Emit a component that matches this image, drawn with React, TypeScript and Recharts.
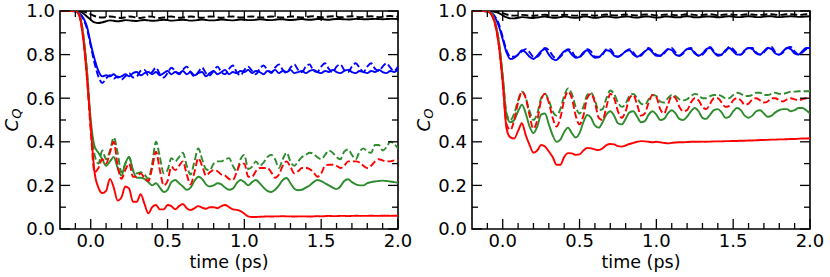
import React from "react";
import { LineChart, Line, XAxis, YAxis, ReferenceArea } from "recharts";

// time axis (ps)
const TIME = [
  -0.2, -0.175, -0.15, -0.125, -0.1, -0.075, -0.05, -0.025,
  0, 0.025, 0.05, 0.075, 0.1, 0.125, 0.15, 0.175,
  0.2, 0.225, 0.25, 0.275, 0.3, 0.325, 0.35, 0.375,
  0.4, 0.425, 0.45, 0.475, 0.5, 0.525, 0.55, 0.575,
  0.6, 0.625, 0.65, 0.675, 0.7, 0.725, 0.75, 0.775,
  0.8, 0.825, 0.85, 0.875, 0.9, 0.925, 0.95, 0.975,
  1.0, 1.025, 1.05, 1.075, 1.1, 1.125, 1.15, 1.175,
  1.2, 1.225, 1.25, 1.275, 1.3, 1.325, 1.35, 1.375,
  1.4, 1.425, 1.45, 1.475, 1.5, 1.525, 1.55, 1.575,
  1.6, 1.625, 1.65, 1.675, 1.7, 1.725, 1.75, 1.775,
  1.8, 1.825, 1.85, 1.875, 1.9, 1.925, 1.95, 1.975,
  2.0,
];

const X_TICKS = [
  -0.1, 0, 0.1, 0.2, 0.3, 0.4, 0.5, 0.6, 0.7, 0.8, 0.9, 1.0,
  1.1, 1.2, 1.3, 1.4, 1.5, 1.6, 1.7, 1.8, 1.9, 2.0,
];
const Y_TICKS = [0, 0.1, 0.2, 0.3, 0.4, 0.5, 0.6, 0.7, 0.8, 0.9, 1.0];

// ---- left panel: C_Q ----
const qBlackSolid = [
  1, 1, 1, 1, 1, 0.998, 0.99, 0.975,
  0.96, 0.948, 0.945, 0.948, 0.953, 0.957, 0.955, 0.953,
  0.955, 0.958, 0.957, 0.955, 0.954, 0.957, 0.959, 0.957,
  0.955, 0.956, 0.958, 0.96, 0.958, 0.956, 0.957, 0.959,
  0.96, 0.958, 0.956, 0.957, 0.959, 0.961, 0.959, 0.957,
  0.957, 0.959, 0.961, 0.96, 0.958, 0.957, 0.959, 0.961,
  0.96, 0.958, 0.958, 0.96, 0.962, 0.961, 0.959, 0.958,
  0.96, 0.962, 0.962, 0.96, 0.959, 0.96, 0.962, 0.963,
  0.961, 0.96, 0.961, 0.963, 0.963, 0.961, 0.96, 0.962,
  0.963, 0.963, 0.962, 0.961, 0.962, 0.964, 0.963, 0.962,
  0.962, 0.963, 0.964, 0.963, 0.962, 0.963, 0.964, 0.964,
  0.963,
];
const qBlackDash = [
  1, 1, 1, 1, 1, 1, 0.998, 0.993,
  0.985, 0.977, 0.972, 0.97, 0.972, 0.975, 0.973, 0.97,
  0.968, 0.971, 0.975, 0.973, 0.97, 0.968, 0.971, 0.975,
  0.974, 0.97, 0.968, 0.97, 0.974, 0.975, 0.972, 0.969,
  0.97, 0.973, 0.975, 0.973, 0.97, 0.969, 0.972, 0.975,
  0.974, 0.971, 0.969, 0.971, 0.974, 0.975, 0.972, 0.97,
  0.971, 0.974, 0.975, 0.973, 0.97, 0.97, 0.973, 0.975,
  0.974, 0.971, 0.97, 0.972, 0.975, 0.975, 0.972, 0.97,
  0.972, 0.975, 0.976, 0.973, 0.971, 0.972, 0.975, 0.976,
  0.974, 0.971, 0.972, 0.975, 0.976, 0.974, 0.972, 0.973,
  0.975, 0.976, 0.974, 0.972, 0.973, 0.976, 0.977, 0.975,
  0.974,
];
const qBlueSolid = [
  1, 1, 1, 1, 0.998, 0.99, 0.97, 0.93,
  0.85, 0.78, 0.725, 0.7, 0.705, 0.7, 0.71, 0.695,
  0.7, 0.71, 0.7, 0.715, 0.72, 0.705, 0.715, 0.72,
  0.71, 0.72, 0.705, 0.715, 0.725, 0.71, 0.72, 0.715,
  0.725, 0.71, 0.72, 0.705, 0.715, 0.72, 0.7, 0.715,
  0.725, 0.71, 0.72, 0.73, 0.71, 0.72, 0.715, 0.725,
  0.72, 0.73, 0.715, 0.725, 0.72, 0.71, 0.725, 0.72,
  0.73, 0.715, 0.725, 0.72, 0.73, 0.715, 0.72, 0.725,
  0.715, 0.725, 0.73, 0.72, 0.715, 0.725, 0.72, 0.73,
  0.72, 0.715, 0.725, 0.73, 0.72, 0.715, 0.725, 0.72,
  0.715, 0.725, 0.72, 0.73, 0.72, 0.715, 0.725, 0.72,
  0.73,
];
const qBlueDash = [
  1, 1, 1, 1, 0.998, 0.99, 0.965, 0.92,
  0.84, 0.76, 0.7, 0.67, 0.69, 0.705, 0.69, 0.7,
  0.685, 0.7, 0.715, 0.695, 0.7, 0.725, 0.73, 0.705,
  0.72, 0.74, 0.71, 0.695, 0.715, 0.74, 0.725, 0.71,
  0.73, 0.745, 0.72, 0.7, 0.72, 0.74, 0.715, 0.705,
  0.725, 0.745, 0.72, 0.71, 0.735, 0.75, 0.72, 0.705,
  0.73, 0.745, 0.725, 0.71, 0.735, 0.75, 0.73, 0.715,
  0.74, 0.755, 0.73, 0.715, 0.74, 0.755, 0.73, 0.72,
  0.745, 0.755, 0.725, 0.72, 0.745, 0.76, 0.735, 0.72,
  0.745, 0.755, 0.73, 0.72, 0.745, 0.76, 0.74, 0.72,
  0.745, 0.76, 0.735, 0.725, 0.745, 0.76, 0.74, 0.725,
  0.745,
];
const qGreenSolid = [
  1, 1, 1, 1, 1, 0.985, 0.9, 0.73,
  0.5, 0.38, 0.35, 0.32, 0.29, 0.31, 0.33, 0.28,
  0.245, 0.3, 0.33, 0.27, 0.235, 0.235, 0.23, 0.215,
  0.2, 0.21, 0.19, 0.17, 0.18, 0.215, 0.225, 0.21,
  0.195, 0.18, 0.19, 0.22, 0.24, 0.23, 0.205, 0.195,
  0.2, 0.21, 0.205, 0.19, 0.18, 0.185, 0.21, 0.225,
  0.215, 0.2, 0.215, 0.225, 0.21, 0.19, 0.175, 0.17,
  0.18, 0.2, 0.225, 0.234, 0.21, 0.185, 0.178, 0.18,
  0.19, 0.2, 0.215, 0.225, 0.22, 0.21, 0.2, 0.19,
  0.183, 0.195, 0.22, 0.228, 0.215, 0.205, 0.2, 0.2,
  0.21, 0.215, 0.218, 0.22, 0.222, 0.22, 0.218, 0.215,
  0.213,
];
const qGreenDash = [
  1, 1, 1, 1, 1, 0.985, 0.9, 0.73,
  0.48, 0.34, 0.3, 0.36, 0.32, 0.36, 0.42, 0.35,
  0.26, 0.3, 0.33, 0.27, 0.255, 0.26, 0.25, 0.23,
  0.3, 0.4, 0.33, 0.255, 0.27, 0.325, 0.31, 0.33,
  0.35, 0.29, 0.25, 0.31, 0.37, 0.32, 0.275, 0.27,
  0.3, 0.31, 0.31, 0.32, 0.325, 0.29, 0.265, 0.32,
  0.34, 0.275, 0.285, 0.31, 0.29, 0.305, 0.33, 0.34,
  0.32, 0.28, 0.32, 0.35, 0.31, 0.29, 0.31, 0.33,
  0.34, 0.35, 0.345, 0.33, 0.32, 0.34, 0.36, 0.35,
  0.33, 0.32, 0.355, 0.365, 0.34, 0.32, 0.355, 0.37,
  0.355, 0.35, 0.385, 0.385, 0.36, 0.375, 0.4, 0.39,
  0.37,
];
const qRedSolid = [
  1, 1, 1, 1, 1, 0.98, 0.88, 0.7,
  0.47, 0.26, 0.19, 0.165, 0.175, 0.23, 0.19, 0.13,
  0.145, 0.195, 0.185, 0.125, 0.125, 0.16, 0.115, 0.072,
  0.1, 0.11, 0.09, 0.09, 0.11, 0.105, 0.09, 0.105,
  0.115, 0.095, 0.087, 0.095, 0.105, 0.098, 0.093, 0.1,
  0.1, 0.095, 0.105, 0.11, 0.1, 0.09, 0.088, 0.082,
  0.07, 0.058, 0.055, 0.055, 0.056, 0.057, 0.058, 0.057,
  0.058, 0.058, 0.059, 0.058, 0.058, 0.057, 0.058, 0.058,
  0.058, 0.057, 0.058, 0.059, 0.058, 0.059, 0.06, 0.059,
  0.059, 0.06, 0.06, 0.059, 0.06, 0.061, 0.06, 0.06,
  0.06, 0.061, 0.06, 0.06, 0.061, 0.061, 0.06, 0.061,
  0.061,
];
const qRedDash = [
  1, 1, 1, 1, 1, 0.98, 0.88, 0.7,
  0.45, 0.26, 0.28, 0.32, 0.3, 0.35, 0.4, 0.29,
  0.23, 0.27, 0.3, 0.24, 0.24, 0.255, 0.235, 0.22,
  0.28, 0.355, 0.27, 0.2, 0.22, 0.285, 0.27, 0.29,
  0.31, 0.25, 0.205, 0.26, 0.325, 0.29, 0.245, 0.26,
  0.27, 0.265, 0.25, 0.245, 0.23, 0.225, 0.26, 0.3,
  0.3, 0.24, 0.24, 0.265, 0.28, 0.28, 0.28, 0.26,
  0.235, 0.25, 0.29, 0.31, 0.285, 0.255, 0.265, 0.28,
  0.28, 0.275, 0.26, 0.24, 0.255, 0.29, 0.295, 0.295,
  0.29, 0.28, 0.29, 0.31, 0.31, 0.31, 0.305, 0.29,
  0.28, 0.29, 0.31, 0.32, 0.315, 0.31, 0.31, 0.315,
  0.315,
];

// ---- right panel: C_O ----
const oBlackSolid = [
  1, 1, 1, 1, 1, 0.999, 0.996, 0.99,
  0.98, 0.971, 0.966, 0.966, 0.969, 0.972, 0.971, 0.969,
  0.968, 0.97, 0.973, 0.974, 0.972, 0.969, 0.969, 0.972,
  0.974, 0.973, 0.97, 0.969, 0.971, 0.974, 0.974, 0.971,
  0.969, 0.97, 0.973, 0.975, 0.973, 0.97, 0.97, 0.973,
  0.975, 0.974, 0.971, 0.97, 0.972, 0.975, 0.975, 0.972,
  0.97, 0.971, 0.974, 0.975, 0.973, 0.971, 0.971, 0.974,
  0.976, 0.974, 0.971, 0.971, 0.973, 0.975, 0.975, 0.973,
  0.971, 0.972, 0.975, 0.976, 0.974, 0.972, 0.972, 0.975,
  0.976, 0.975, 0.972, 0.972, 0.974, 0.976, 0.976, 0.973,
  0.972, 0.973, 0.975, 0.976, 0.975, 0.973, 0.973, 0.975,
  0.976,
];
const oBlackDash = [
  1, 1, 1, 1, 1, 1, 0.999, 0.996,
  0.99, 0.984, 0.98, 0.979, 0.98, 0.982, 0.981, 0.979,
  0.978, 0.98, 0.982, 0.983, 0.981, 0.979, 0.979, 0.981,
  0.983, 0.982, 0.98, 0.979, 0.981, 0.983, 0.983, 0.981,
  0.979, 0.98, 0.982, 0.984, 0.982, 0.98, 0.98, 0.982,
  0.984, 0.983, 0.981, 0.98, 0.982, 0.984, 0.984, 0.982,
  0.98, 0.981, 0.983, 0.984, 0.983, 0.981, 0.981, 0.983,
  0.985, 0.984, 0.982, 0.981, 0.982, 0.984, 0.985, 0.983,
  0.981, 0.982, 0.984, 0.985, 0.983, 0.982, 0.982, 0.984,
  0.985, 0.984, 0.982, 0.982, 0.983, 0.985, 0.985, 0.983,
  0.982, 0.983, 0.985, 0.985, 0.984, 0.982, 0.983, 0.985,
  0.985,
];
const oBlueSolid = [
  1, 1, 1, 1, 0.998, 0.99, 0.97, 0.93,
  0.87, 0.81, 0.78, 0.785, 0.8, 0.82, 0.81, 0.79,
  0.78, 0.795, 0.815, 0.825, 0.8, 0.78, 0.775, 0.795,
  0.815, 0.82, 0.8, 0.785, 0.79, 0.81, 0.82, 0.8,
  0.785, 0.787, 0.805, 0.82, 0.815, 0.795, 0.79, 0.8,
  0.815, 0.82, 0.8, 0.79, 0.8, 0.815, 0.825, 0.81,
  0.795, 0.795, 0.81, 0.825, 0.82, 0.8, 0.795, 0.81,
  0.825, 0.825, 0.805, 0.795, 0.805, 0.825, 0.83, 0.81,
  0.795, 0.8, 0.82, 0.83, 0.815, 0.8, 0.8, 0.82,
  0.83, 0.825, 0.805, 0.8, 0.815, 0.83, 0.825, 0.805,
  0.8, 0.815, 0.83, 0.825, 0.805, 0.8, 0.815, 0.83,
  0.83,
];
const oBlueDash = [
  1, 1, 1, 1, 0.998, 0.992, 0.975, 0.94,
  0.88, 0.82, 0.79, 0.79, 0.8, 0.815, 0.825, 0.81,
  0.79, 0.79, 0.81, 0.83, 0.82, 0.795, 0.78, 0.79,
  0.81, 0.825, 0.815, 0.79, 0.79, 0.805, 0.825, 0.815,
  0.79, 0.79, 0.8, 0.825, 0.825, 0.8, 0.79, 0.8,
  0.815, 0.825, 0.81, 0.79, 0.795, 0.815, 0.83, 0.815,
  0.8, 0.795, 0.805, 0.825, 0.83, 0.81, 0.795, 0.805,
  0.825, 0.83, 0.81, 0.795, 0.8, 0.82, 0.835, 0.815,
  0.8, 0.8, 0.815, 0.835, 0.825, 0.805, 0.8, 0.815,
  0.83, 0.83, 0.81, 0.8, 0.81, 0.83, 0.835, 0.81,
  0.8, 0.81, 0.83, 0.835, 0.815, 0.8, 0.81, 0.825,
  0.835,
];
const oGreenSolid = [
  1, 1, 1, 1, 0.998, 0.99, 0.95, 0.86,
  0.7, 0.52, 0.49, 0.5, 0.54, 0.57, 0.53, 0.47,
  0.44, 0.47, 0.525, 0.53, 0.48, 0.43, 0.4, 0.41,
  0.445, 0.465, 0.44, 0.42, 0.44, 0.49, 0.523, 0.51,
  0.475, 0.465, 0.49, 0.525, 0.54, 0.52, 0.485, 0.48,
  0.505, 0.535, 0.54, 0.515, 0.49, 0.495, 0.525, 0.54,
  0.525, 0.5, 0.505, 0.53, 0.545, 0.53, 0.505, 0.5,
  0.515, 0.54, 0.555, 0.54, 0.51, 0.505, 0.525, 0.545,
  0.55, 0.535, 0.51, 0.515, 0.54, 0.555, 0.545, 0.52,
  0.51, 0.52, 0.54, 0.545, 0.53, 0.515, 0.52, 0.535,
  0.545, 0.55, 0.55, 0.54, 0.545, 0.555, 0.555, 0.545,
  0.53,
];
const oGreenDash = [
  1, 1, 1, 1, 0.998, 0.99, 0.95, 0.86,
  0.7, 0.53, 0.5, 0.53, 0.59, 0.63, 0.6, 0.54,
  0.5, 0.53, 0.6, 0.62, 0.59, 0.54, 0.52, 0.55,
  0.61, 0.645, 0.62, 0.56, 0.53, 0.56, 0.615, 0.625,
  0.59, 0.545, 0.55, 0.6, 0.635, 0.62, 0.58, 0.56,
  0.575, 0.61, 0.62, 0.6, 0.575, 0.57, 0.595, 0.615,
  0.61, 0.585, 0.58, 0.6, 0.615, 0.61, 0.595, 0.59,
  0.595, 0.61, 0.62, 0.615, 0.6, 0.6, 0.61, 0.615,
  0.615, 0.61, 0.6, 0.6, 0.615, 0.625, 0.62, 0.61,
  0.61, 0.615, 0.625, 0.625, 0.615, 0.615, 0.62, 0.625,
  0.62, 0.62, 0.625, 0.63, 0.63, 0.632, 0.632, 0.632,
  0.632,
];
const oRedSolid = [
  1, 1, 1, 1, 0.998, 0.985, 0.94, 0.84,
  0.67, 0.46, 0.42, 0.415, 0.45, 0.485, 0.43, 0.385,
  0.35, 0.36, 0.385, 0.378, 0.356, 0.33, 0.295, 0.295,
  0.33, 0.348, 0.347, 0.34, 0.342, 0.36, 0.372, 0.37,
  0.365, 0.362, 0.37, 0.385, 0.39, 0.388, 0.38, 0.378,
  0.383, 0.39, 0.395, 0.4, 0.403, 0.402, 0.4, 0.398,
  0.4, 0.398, 0.395, 0.393, 0.395, 0.397, 0.398, 0.398,
  0.399, 0.4, 0.4, 0.4, 0.401, 0.4, 0.401, 0.402,
  0.402, 0.402, 0.403, 0.403, 0.404, 0.404, 0.405, 0.405,
  0.406, 0.406, 0.407, 0.408, 0.408, 0.409, 0.41, 0.41,
  0.411, 0.411, 0.412, 0.413, 0.413, 0.414, 0.415, 0.415,
  0.416,
];
const oRedDash = [
  1, 1, 1, 1, 0.998, 0.985, 0.94, 0.84,
  0.67, 0.48, 0.455, 0.5, 0.58, 0.63, 0.6, 0.52,
  0.46, 0.5, 0.59, 0.62, 0.58, 0.51, 0.47, 0.51,
  0.59, 0.63, 0.6, 0.52, 0.48, 0.52, 0.6, 0.62,
  0.58, 0.51, 0.5, 0.56, 0.62, 0.6, 0.54, 0.51,
  0.54, 0.6, 0.615, 0.57, 0.52, 0.53, 0.58, 0.615,
  0.605, 0.55, 0.53, 0.57, 0.61, 0.6, 0.56, 0.54,
  0.545, 0.58, 0.6, 0.59, 0.56, 0.55, 0.575, 0.6,
  0.6, 0.58, 0.56, 0.565, 0.59, 0.6, 0.59, 0.57,
  0.575, 0.595, 0.6, 0.59, 0.58, 0.585, 0.6, 0.6,
  0.59, 0.585, 0.595, 0.6, 0.595, 0.59, 0.595, 0.6,
  0.6,
];

const W = 415;
const H = 277;
const PLOT_LEFT = 60;
const PLOT_RIGHT = 398;
const PLOT_TOP = 11;
const PLOT_BOTTOM = 229;
const FONT = "DejaVu Sans";
const FS = 18;

const RED = "#ff0000";
const GREEN = "#2e8b2e";
const BLUE = "#0000ff";
const BLACK = "#000000";
const DASH = "7 3";

const isMultiple = (v: number, step: number) =>
  Math.abs(v / step - Math.round(v / step)) < 1e-6;

const XTick = (props: any) => {
  const { x, payload } = props;
  const v = payload.value as number;
  const major = isMultiple(v, 0.5);
  const len = major ? 10 : 6;
  return (
    <g>
      <line x1={x} x2={x} y1={PLOT_BOTTOM} y2={PLOT_BOTTOM - len} stroke="#000" strokeWidth={1.3} />
      <line x1={x} x2={x} y1={PLOT_TOP} y2={PLOT_TOP + len} stroke="#000" strokeWidth={1.3} />
      {major && (
        <text x={x} y={PLOT_BOTTOM + 18} textAnchor="middle" fontFamily={FONT} fontSize={FS} fill="#000">
          {v.toFixed(1)}
        </text>
      )}
    </g>
  );
};

const YTick = (props: any) => {
  const { y, payload } = props;
  const v = payload.value as number;
  const major = isMultiple(v, 0.2);
  const len = major ? 10 : 6;
  return (
    <g>
      <line x1={PLOT_LEFT} x2={PLOT_LEFT + len} y1={y} y2={y} stroke="#000" strokeWidth={1.3} />
      <line x1={PLOT_RIGHT - len} x2={PLOT_RIGHT} y1={y} y2={y} stroke="#000" strokeWidth={1.3} />
      {major && (
        <text x={PLOT_LEFT - 5} y={y} dy="0.36em" textAnchor="end" fontFamily={FONT} fontSize={FS} fill="#000">
          {v.toFixed(1)}
        </text>
      )}
    </g>
  );
};

type PanelProps = {
  left: number;
  sub: string;
  black: number[][];
  blue: number[][];
  green: number[][];
  red: number[][];
};

function Panel({ left, sub, black, blue, green, red }: PanelProps) {
  const data = TIME.map((t, i) => ({
    t,
    kS: black[0][i],
    kD: black[1][i],
    bS: blue[0][i],
    bD: blue[1][i],
    gS: green[0][i],
    gD: green[1][i],
    rS: red[0][i],
    rD: red[1][i],
  }));
  const series: [string, string, boolean][] = [
    ["kS", BLACK, false],
    ["kD", BLACK, true],
    ["bS", BLUE, false],
    ["bD", BLUE, true],
    ["gS", GREEN, false],
    ["gD", GREEN, true],
    ["rS", RED, false],
    ["rD", RED, true],
  ];
  return (
    <div style={{ position: "absolute", left, top: 0, width: W, height: H }}>
      <LineChart
        width={W}
        height={H}
        data={data}
        margin={{ top: PLOT_TOP, right: W - PLOT_RIGHT, bottom: 0, left: 0 }}
      >
        <XAxis
          dataKey="t"
          type="number"
          domain={[-0.2, 2.0]}
          ticks={X_TICKS}
          interval={0}
          allowDataOverflow
          height={H - PLOT_BOTTOM}
          axisLine={false}
          tickLine={false}
          tick={XTick}
        />
        <YAxis
          type="number"
          domain={[0, 1]}
          ticks={Y_TICKS}
          interval={0}
          allowDataOverflow
          width={PLOT_LEFT}
          axisLine={false}
          tickLine={false}
          tick={YTick}
        />
        {series.map(([key, color, dashed]) => (
          <Line
            key={key}
            dataKey={key}
            type="monotone"
            stroke={color}
            strokeWidth={1.9}
            strokeDasharray={dashed ? DASH : undefined}
            dot={false}
            isAnimationActive={false}
          />
        ))}
        <ReferenceArea
          x1={-0.2}
          x2={2.0}
          y1={0}
          y2={1}
          fill="none"
          stroke="#000"
          strokeWidth={1.6}
          fillOpacity={0}
          strokeOpacity={1}
          ifOverflow="visible"
        />
      </LineChart>
      <svg
        width={W}
        height={H}
        style={{ position: "absolute", left: 0, top: 0, pointerEvents: "none" }}
      >
        <text
          x={(PLOT_LEFT + PLOT_RIGHT) / 2}
          y={268}
          textAnchor="middle"
          fontFamily={FONT}
          fontSize={17.5}
          fill="#000"
        >
          time (ps)
        </text>
        <text
          transform={`translate(18,${(PLOT_TOP + PLOT_BOTTOM) / 2}) rotate(-90)`}
          textAnchor="middle"
          fontFamily={FONT}
          fontSize={FS}
          fill="#000"
        >
          <tspan fontStyle="italic">C</tspan>
          <tspan fontStyle="italic" fontSize={13} dy={3}>
            {sub}
          </tspan>
        </text>
      </svg>
    </div>
  );
}

export default function App() {
  return (
    <div style={{ position: "absolute", left: 0, top: 0, width: 830, height: 277, background: "#fff" }}>
      <Panel
        left={0}
        sub="Q"
        black={[qBlackSolid, qBlackDash]}
        blue={[qBlueSolid, qBlueDash]}
        green={[qGreenSolid, qGreenDash]}
        red={[qRedSolid, qRedDash]}
      />
      <Panel
        left={412}
        sub="O"
        black={[oBlackSolid, oBlackDash]}
        blue={[oBlueSolid, oBlueDash]}
        green={[oGreenSolid, oGreenDash]}
        red={[oRedSolid, oRedDash]}
      />
    </div>
  );
}
